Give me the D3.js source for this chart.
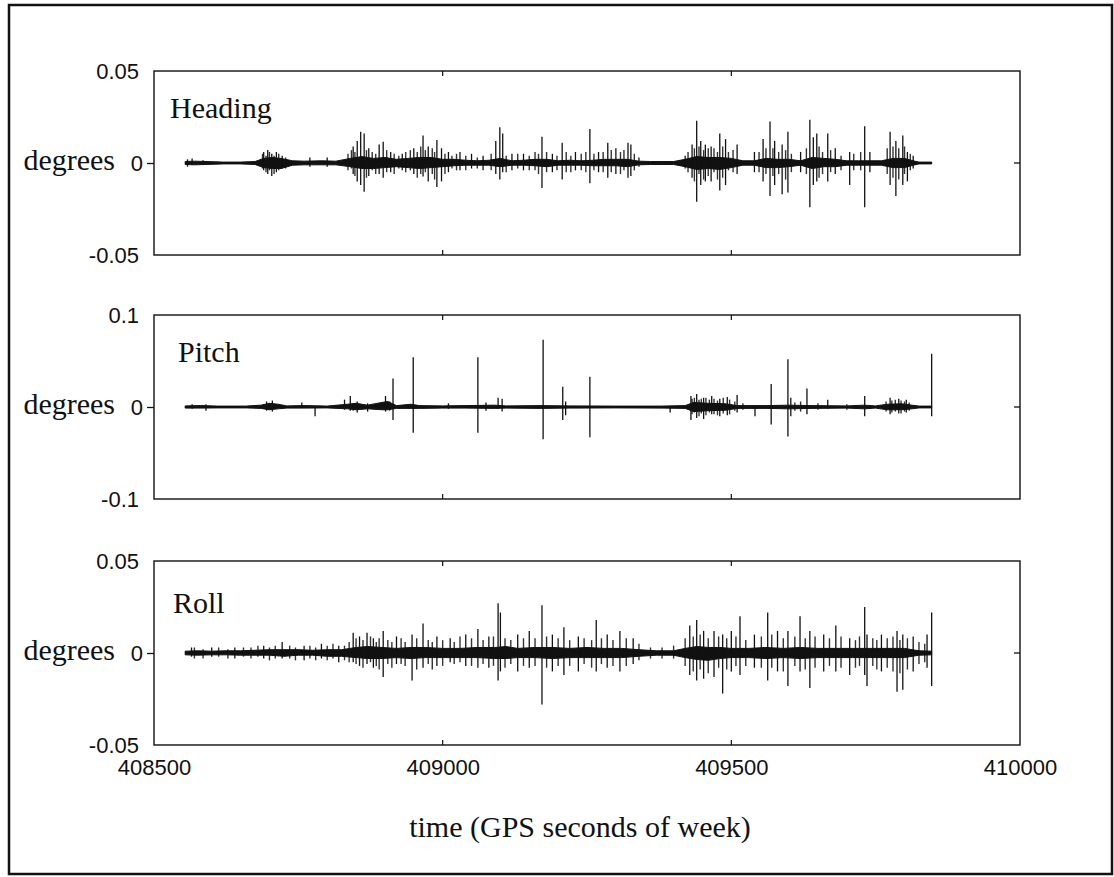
<!DOCTYPE html>
<html><head><meta charset="utf-8">
<script src="https://cdn.jsdelivr.net/npm/d3@7/dist/d3.min.js"></script>
<style>body{margin:0;background:#fff}svg{display:block}</style>
</head><body><svg id="c" width="1114" height="877"></svg>
<script>
// ---------- data ----------
const xDomain = [408500, 410000];
const xTicks = [408500, 409000, 409500, 410000];
const xTickLabels = ["408500", "409000", "409500", "410000"];
const seriesNames = ["Heading", "Pitch", "Roll"];
const yDomains = [[-0.05, 0.05], [-0.1, 0.1], [-0.05, 0.05]];
const yTicks = [[-0.05, 0, 0.05], [-0.1, 0, 0.1], [-0.05, 0, 0.05]];
const yTickLabels = [["-0.05", "0", "0.05"], ["-0.1", "0", "0.1"], ["-0.05", "0", "0.05"]];
const yLabel = "degrees";
const xLabel = "time (GPS seconds of week)";

// dense core band: [time, upper, lower]
const headingBand = [
[408554,0.0008,-0.0008],[408570,0.001,-0.001],[408590,0.0008,-0.0008],[408620,0.0005,-0.0005],[408650,0.0005,-0.0005],
[408675,0.0008,-0.0008],[408690,0.0025,-0.0025],[408705,0.003,-0.003],[408720,0.0025,-0.003],[408740,0.0012,-0.0012],
[408760,0.001,-0.001],[408790,0.0012,-0.001],[408815,0.001,-0.001],[408840,0.0025,-0.002],[408860,0.0035,-0.003],
[408880,0.0025,-0.003],[408900,0.003,-0.0025],[408920,0.002,-0.002],[408940,0.0025,-0.0025],[408960,0.003,-0.003],
[408980,0.003,-0.0025],[409000,0.002,-0.002],[409020,0.002,-0.0015],[409040,0.0015,-0.0012],[409060,0.0012,-0.0012],
[409080,0.0015,-0.0012],[409100,0.0025,-0.002],[409120,0.0012,-0.0012],[409140,0.0015,-0.0012],[409160,0.002,-0.0015],
[409180,0.002,-0.002],[409200,0.0012,-0.0012],[409220,0.0015,-0.0012],[409240,0.0012,-0.0012],[409260,0.0015,-0.0015],
[409280,0.002,-0.0015],[409300,0.002,-0.0015],[409320,0.002,-0.002],[409340,0.001,-0.001],[409360,0.0008,-0.0008],
[409380,0.0008,-0.0008],[409400,0.0008,-0.0008],[409420,0.002,-0.002],[409440,0.0035,-0.0035],[409460,0.003,-0.003],
[409480,0.003,-0.0035],[409500,0.0025,-0.0025],[409520,0.0012,-0.0012],[409540,0.0012,-0.0012],[409560,0.0025,-0.0025],
[409580,0.002,-0.0025],[409600,0.002,-0.002],[409620,0.0012,-0.0012],[409640,0.003,-0.003],[409660,0.0025,-0.002],
[409680,0.002,-0.002],[409700,0.0012,-0.0012],[409720,0.0012,-0.0012],[409740,0.0012,-0.0012],[409760,0.0012,-0.0012],
[409780,0.0025,-0.0025],[409800,0.0025,-0.0025],[409815,0.0012,-0.0012],[409825,0.0005,-0.0005],[409847,0.0005,-0.0005]];

// large spikes: [time, max, min]
const headingSpikes = [
[408558,0.002,-0.002],[408566,0.0025,-0.001],[408585,0.0015,-0.001],[408690,0.006,-0.004],[408697,0.007,-0.006],
[408704,0.005,-0.007],[408712,0.006,-0.005],[408722,0.004,-0.003],[408770,0.003,-0.002],[408800,0.003,-0.002],
[408845,0.009,-0.006],[408852,0.012,-0.01],[408858,0.017,-0.012],[408864,0.016,-0.0156],[408872,0.008,-0.007],
[408890,0.01,-0.006],[408897,0.0116,-0.008],[408910,0.006,-0.005],[408930,0.005,-0.004],[408950,0.008,-0.006],
[408966,0.015,-0.0074],[408975,0.009,-0.01],[408990,0.0125,-0.013],[408998,0.008,-0.01],[409010,0.006,-0.005],
[409030,0.006,-0.004],[409050,0.005,-0.003],[409070,0.004,-0.004],[409092,0.012,-0.006],[409099,0.0194,-0.009],
[409104,0.016,-0.005],[409120,0.005,-0.004],[409140,0.005,-0.004],[409172,0.0143,-0.0136],[409190,0.005,-0.005],
[409207,0.011,-0.009],[409230,0.006,-0.004],[409255,0.0185,-0.011],[409270,0.006,-0.005],[409286,0.011,-0.008],
[409300,0.008,-0.006],[409321,0.011,-0.008],[409326,0.01,-0.007],[409340,0.003,-0.002],[409420,0.004,-0.003],
[409432,0.01,-0.008],[409440,0.023,-0.021],[409447,0.012,-0.012],[409455,0.01,-0.01],[409465,0.009,-0.01],
[409480,0.016,-0.015],[409490,0.013,-0.012],[409510,0.01,-0.006],[409540,0.006,-0.005],[409555,0.013,-0.01],
[409567,0.0225,-0.018],[409575,0.012,-0.012],[409588,0.01,-0.017],[409598,0.017,-0.016],[409620,0.006,-0.005],
[409636,0.0235,-0.024],[409642,0.014,-0.012],[409648,0.016,-0.01],[409667,0.016,-0.01],[409680,0.008,-0.006],
[409705,0.006,-0.012],[409731,0.02,-0.024],[409740,0.006,-0.005],[409775,0.017,-0.012],[409785,0.012,-0.018],
[409797,0.015,-0.012],[409805,0.006,-0.01],[409815,0.004,-0.003]];

// small hair spikes: [time, max, min]
const headingFuzz = [
[408688,0.005,-0.003],[408694,0.004,-0.005],[408700,0.006,-0.004],[408708,0.004,-0.006],[408716,0.005,-0.004],
[408728,0.003,-0.003],[408836,0.005,-0.004],[408842,0.007,-0.003],[408848,0.006,-0.007],[408868,0.007,-0.008],
[408878,0.006,-0.004],[408884,0.005,-0.006],[408903,0.007,-0.005],[408916,0.005,-0.006],[408924,0.004,-0.003],
[408936,0.006,-0.005],[408944,0.007,-0.004],[408956,0.006,-0.008],[408962,0.009,-0.006],[408970,0.007,-0.005],
[408982,0.008,-0.006],[408986,0.006,-0.009],[409004,0.005,-0.006],[409016,0.004,-0.003],[409024,0.005,-0.004],
[409040,0.004,-0.004],[409060,0.003,-0.003],[409084,0.005,-0.004],[409110,0.004,-0.005],[409130,0.005,-0.003],
[409150,0.004,-0.004],[409160,0.006,-0.004],[409166,0.005,-0.006],[409180,0.006,-0.005],[409198,0.004,-0.004],
[409214,0.006,-0.005],[409222,0.004,-0.005],[409240,0.005,-0.004],[409248,0.006,-0.005],[409262,0.005,-0.004],
[409278,0.006,-0.005],[409292,0.007,-0.005],[409308,0.006,-0.006],[409314,0.007,-0.004],[409332,0.005,-0.004],
[409425,0.006,-0.005],[409436,0.008,-0.01],[409444,0.009,-0.006],[409452,0.007,-0.009],[409460,0.008,-0.007],
[409470,0.008,-0.005],[409476,0.006,-0.009],[409485,0.009,-0.008],[409495,0.006,-0.004],[409503,0.007,-0.005],
[409548,0.006,-0.005],[409560,0.008,-0.006],[409572,0.008,-0.007],[409582,0.006,-0.006],[409594,0.007,-0.009],
[409604,0.005,-0.005],[409630,0.008,-0.006],[409652,0.009,-0.008],[409658,0.006,-0.006],[409672,0.007,-0.005],
[409690,0.004,-0.004],[409712,0.005,-0.004],[409724,0.006,-0.004],[409770,0.008,-0.006],[409780,0.009,-0.008],
[409790,0.008,-0.009],[409800,0.009,-0.006],[409810,0.005,-0.004]];

const pitchBand = [
[408554,0.0012,-0.0012],[408580,0.0015,-0.0012],[408610,0.001,-0.001],[408660,0.001,-0.001],[408685,0.002,-0.0015],
[408700,0.004,-0.003],[408715,0.003,-0.002],[408730,0.0012,-0.0012],[408760,0.0015,-0.0012],[408800,0.001,-0.001],
[408835,0.003,-0.002],[408850,0.004,-0.003],[408870,0.002,-0.002],[408895,0.005,-0.003],[408905,0.006,-0.003],
[408920,0.0015,-0.0015],[408945,0.003,-0.0015],[408960,0.0015,-0.0015],[409000,0.0012,-0.0012],[409040,0.0015,-0.0012],
[409090,0.002,-0.0015],[409110,0.0012,-0.0012],[409170,0.0015,-0.0015],[409220,0.0012,-0.0012],[409300,0.001,-0.001],
[409380,0.001,-0.0012],[409420,0.0015,-0.0015],[409435,0.005,-0.005],[409460,0.004,-0.004],[409490,0.0035,-0.0035],
[409510,0.0015,-0.0015],[409560,0.0015,-0.0015],[409600,0.002,-0.002],[409640,0.0015,-0.0015],[409700,0.0012,-0.0012],
[409730,0.002,-0.002],[409750,0.0012,-0.0012],[409770,0.003,-0.003],[409795,0.0035,-0.003],[409813,0.002,-0.002],
[409825,0.001,-0.001],[409847,0.001,-0.001]];

const pitchSpikes = [
[408566,0.003,-0.002],[408590,0.003,-0.004],[408695,0.006,-0.004],[408705,0.007,-0.005],[408756,0.005,-0.001],
[408779,0.001,-0.01],[408830,0.008,-0.003],[408840,0.012,-0.004],[408852,0.006,-0.006],[408870,0.004,-0.005],
[408901,0.012,-0.005],[408914,0.031,-0.014],[408949,0.054,-0.028],[409010,0.004,-0.002],[409061,0.054,-0.028],
[409075,0.005,-0.004],[409096,0.01,-0.002],[409103,0.009,-0.005],[409174,0.073,-0.035],[409208,0.022,-0.014],
[409213,0.006,-0.009],[409255,0.033,-0.033],[409394,0.001,-0.006],[409430,0.012,-0.014],[409440,0.014,-0.012],
[409452,0.01,-0.013],[409466,0.012,-0.008],[409480,0.009,-0.01],[409493,0.011,-0.009],[409510,0.013,-0.006],
[409541,0.002,-0.01],[409569,0.025,-0.019],[409598,0.052,-0.032],[409603,0.01,-0.01],[409631,0.02,-0.008],
[409667,0.008,-0.002],[409731,0.012,-0.01],[409775,0.01,-0.008],[409790,0.009,-0.007],[409803,0.008,-0.006],
[409847,0.058,-0.01]];

const pitchFuzz = [
[408700,0.004,-0.003],[408845,0.004,-0.004],[408895,0.005,-0.003],[408908,0.006,-0.004],[409432,0.009,-0.008],
[409436,0.01,-0.006],[409444,0.008,-0.01],[409448,0.009,-0.007],[409456,0.01,-0.009],[409462,0.008,-0.006],
[409470,0.009,-0.008],[409476,0.007,-0.009],[409486,0.01,-0.007],[409497,0.008,-0.008],[409506,0.006,-0.004],
[409520,0.004,-0.003],[409610,0.005,-0.004],[409620,0.006,-0.005],[409650,0.004,-0.003],[409700,0.003,-0.003],
[409768,0.006,-0.005],[409778,0.007,-0.006],[409784,0.008,-0.005],[409794,0.007,-0.007],[409800,0.006,-0.005],
[409808,0.005,-0.004]];

const rollBand = [
[408554,0.001,-0.001],[408575,0.0012,-0.0012],[408600,0.001,-0.001],[408625,0.0012,-0.001],[408650,0.0012,-0.0012],
[408675,0.0015,-0.0012],[408700,0.0018,-0.0012],[408725,0.0018,-0.0018],[408750,0.0018,-0.0012],[408775,0.0015,-0.0012],
[408800,0.0018,-0.0018],[408825,0.0018,-0.0018],[408850,0.003,-0.0025],[408870,0.0035,-0.003],[408895,0.003,-0.003],
[408920,0.0025,-0.0025],[408945,0.003,-0.003],[408970,0.003,-0.0025],[409000,0.0025,-0.0025],[409030,0.0025,-0.0025],
[409060,0.003,-0.0025],[409090,0.003,-0.003],[409110,0.0035,-0.003],[409130,0.0025,-0.0025],[409160,0.003,-0.0025],
[409190,0.003,-0.003],[409220,0.0025,-0.0025],[409250,0.003,-0.0025],[409280,0.0025,-0.0025],[409310,0.0025,-0.0025],
[409340,0.0018,-0.0018],[409370,0.0012,-0.0012],[409400,0.0012,-0.0012],[409420,0.0025,-0.0025],[409440,0.0035,-0.0035],
[409460,0.003,-0.004],[409480,0.003,-0.003],[409500,0.0025,-0.0025],[409530,0.0025,-0.0025],[409560,0.003,-0.003],
[409590,0.0025,-0.0025],[409620,0.003,-0.003],[409650,0.0025,-0.0025],[409680,0.0025,-0.0025],[409710,0.0025,-0.0025],
[409740,0.0025,-0.0025],[409770,0.0025,-0.0025],[409800,0.0025,-0.0025],[409825,0.0012,-0.0012],[409847,0.001,-0.001]];

const rollSpikes = [
[408565,0.003,-0.002],[408600,0.003,-0.002],[408640,0.003,-0.003],[408690,0.004,-0.003],[408722,0.006,-0.003],
[408760,0.004,-0.004],[408790,0.005,-0.003],[408820,0.004,-0.005],[408845,0.011,-0.005],[408856,0.009,-0.007],
[408869,0.011,-0.006],[408880,0.008,-0.008],[408897,0.012,-0.013],[408920,0.009,-0.006],[408947,0.01,-0.015],
[408966,0.016,-0.008],[408990,0.009,-0.007],[409013,0.008,-0.005],[409040,0.01,-0.007],[409061,0.013,-0.008],
[409080,0.009,-0.008],[409096,0.027,-0.015],[409100,0.022,-0.01],[409130,0.01,-0.01],[409150,0.012,-0.008],
[409172,0.026,-0.028],[409190,0.01,-0.01],[409210,0.014,-0.012],[409235,0.009,-0.01],[409266,0.018,-0.01],
[409285,0.01,-0.008],[409307,0.012,-0.01],[409330,0.008,-0.006],[409428,0.015,-0.012],[409440,0.018,-0.015],
[409452,0.012,-0.014],[409470,0.012,-0.013],[409485,0.01,-0.022],[409500,0.012,-0.01],[409515,0.02,-0.012],
[409540,0.01,-0.008],[409563,0.022,-0.015],[409580,0.012,-0.01],[409598,0.012,-0.018],[409619,0.02,-0.01],
[409636,0.012,-0.019],[409660,0.01,-0.01],[409681,0.015,-0.01],[409705,0.008,-0.012],[409731,0.025,-0.012],
[409735,0.01,-0.018],[409760,0.01,-0.01],[409787,0.012,-0.021],[409797,0.01,-0.02],[409815,0.009,-0.01],
[409839,0.01,-0.008],[409847,0.022,-0.018]];

const rollFuzz = [
[408570,0.003,-0.003],[408585,0.002,-0.003],[408612,0.003,-0.002],[408628,0.002,-0.003],[408655,0.003,-0.002],
[408668,0.003,-0.003],[408680,0.004,-0.002],[408700,0.003,-0.004],[408710,0.004,-0.003],[408735,0.004,-0.003],
[408745,0.003,-0.004],[408770,0.004,-0.003],[408780,0.003,-0.004],[408800,0.004,-0.004],[408810,0.005,-0.003],
[408830,0.004,-0.004],[408838,0.006,-0.005],[408850,0.008,-0.006],[408862,0.007,-0.008],[408875,0.009,-0.005],
[408885,0.006,-0.007],[408890,0.008,-0.009],[408905,0.007,-0.006],[408912,0.006,-0.008],[408928,0.008,-0.006],
[408935,0.006,-0.007],[408955,0.008,-0.009],[408975,0.007,-0.006],[408982,0.006,-0.009],[409000,0.007,-0.007],
[409020,0.006,-0.006],[409030,0.009,-0.005],[409050,0.008,-0.007],[409070,0.007,-0.006],[409088,0.009,-0.007],
[409108,0.008,-0.008],[409118,0.007,-0.006],[409140,0.008,-0.007],[409160,0.008,-0.007],[409180,0.009,-0.008],
[409200,0.008,-0.007],[409220,0.007,-0.007],[409245,0.008,-0.006],[409258,0.007,-0.008],[409275,0.008,-0.006],
[409295,0.007,-0.007],[409318,0.008,-0.007],[409340,0.005,-0.004],[409360,0.003,-0.003],[409380,0.003,-0.003],
[409400,0.004,-0.003],[409420,0.008,-0.007],[409434,0.009,-0.01],[409446,0.01,-0.009],[409460,0.008,-0.011],
[409478,0.009,-0.008],[409492,0.008,-0.009],[409508,0.009,-0.007],[409525,0.007,-0.007],[409552,0.009,-0.008],
[409570,0.01,-0.008],[409590,0.008,-0.01],[409610,0.009,-0.007],[409628,0.008,-0.009],[409645,0.009,-0.008],
[409670,0.008,-0.007],[409690,0.009,-0.008],[409715,0.007,-0.008],[409722,0.009,-0.007],[409745,0.008,-0.007],
[409752,0.007,-0.009],[409770,0.008,-0.008],[409780,0.009,-0.01],[409792,0.007,-0.011],[409805,0.008,-0.009],
[409825,0.006,-0.006],[409835,0.005,-0.005]];

const bands = [headingBand, pitchBand, rollBand];
const spikes = [headingSpikes, pitchSpikes, rollSpikes];
const fuzz = [headingFuzz, pitchFuzz, rollFuzz];

// ---------- layout ----------
const W = 1114, H = 877;
const plotL = 154, plotR = 1020, panelH = 184;
const panelTops = [71, 315, 561];
const nameOffsets = [[16, 47], [24, 47], [19, 52]];
const serif = "'Liberation Serif','Times New Roman',serif";
const sans = "'Liberation Sans',Arial,sans-serif";
const ink = "#111";

const svg = d3.select("#c");
svg.append("rect").attr("width", W).attr("height", H).attr("fill", "#fff");
svg.append("rect").attr("x", 9).attr("y", 5).attr("width", 1103).attr("height", 869)
  .attr("fill", "none").attr("stroke", ink).attr("stroke-width", 2.5);

const x = d3.scaleLinear().domain(xDomain).range([plotL, plotR]);

panelTops.forEach((top, i) => {
  const y = d3.scaleLinear().domain(yDomains[i]).range([top + panelH, top]);
  const g = svg.append("g");

  // hair spikes
  g.selectAll("line.fz").data(fuzz[i]).join("line").attr("class", "fz")
    .attr("x1", d => x(d[0])).attr("x2", d => x(d[0]))
    .attr("y1", d => y(d[1])).attr("y2", d => y(d[2]))
    .attr("stroke", "#333").attr("stroke-width", 1.4);
  // band
  const area = d3.area().x(d => x(d[0])).y0(d => y(d[2])).y1(d => y(d[1])).curve(d3.curveLinear);
  g.append("path").datum(bands[i]).attr("d", area).attr("fill", ink).attr("stroke", ink).attr("stroke-width", 1);
  // center trace
  const line = d3.line().x(d => x(d[0])).y(d => y((d[1] + d[2]) / 2));
  g.append("path").datum(bands[i]).attr("d", line).attr("fill", "none").attr("stroke", ink).attr("stroke-width", 2);
  // large spikes
  g.selectAll("line.sp").data(spikes[i]).join("line").attr("class", "sp")
    .attr("x1", d => x(d[0])).attr("x2", d => x(d[0]))
    .attr("y1", d => y(d[1])).attr("y2", d => y(d[2]))
    .attr("stroke", ink).attr("stroke-width", 1.3);

  // frame
  g.append("rect").attr("x", plotL).attr("y", top).attr("width", plotR - plotL).attr("height", panelH)
    .attr("fill", "none").attr("stroke", ink).attr("stroke-width", 1.4);

  // left axis
  const ax = g.append("g").attr("transform", `translate(${plotL},0)`)
    .call(d3.axisLeft(y).tickValues(yTicks[i]).tickSize(7).tickPadding(8)
      .tickFormat((d, k) => yTickLabels[i][k]));
  ax.select(".domain").remove();
  ax.selectAll(".tick line").attr("stroke", ink).attr("stroke-width", 1.3).attr("opacity", d => d === 0 ? 1 : 0);
  ax.selectAll(".tick text").attr("font-family", sans).attr("font-size", 22).attr("fill", ink)
    .attr("dx", d => d === 0 ? 4 : 0);
  // right inward tick at zero
  g.append("line").attr("x1", plotR - 6).attr("x2", plotR).attr("y1", y(0)).attr("y2", y(0))
    .attr("stroke", ink).attr("stroke-width", 1.3);
  // x inward ticks
  const inner = xTicks.slice(1, -1);
  g.selectAll("line.xt").data(inner).join("line").attr("class", "xt")
    .attr("x1", d => x(d)).attr("x2", d => x(d)).attr("y1", top + panelH).attr("y2", top + panelH - 5)
    .attr("stroke", ink).attr("stroke-width", 1.2);
  g.selectAll("line.xt2").data(inner).join("line").attr("class", "xt2")
    .attr("x1", d => x(d)).attr("x2", d => x(d)).attr("y1", top).attr("y2", top + 5)
    .attr("stroke", ink).attr("stroke-width", 1.2);

  // labels
  g.append("text").attr("x", 115).attr("y", y(0) + 7).attr("text-anchor", "end")
    .attr("font-family", serif).attr("font-size", 30).attr("fill", ink).text(yLabel);
  g.append("text").attr("x", plotL + nameOffsets[i][0]).attr("y", top + nameOffsets[i][1])
    .attr("font-family", serif).attr("font-size", 30).attr("fill", ink).text(seriesNames[i]);

  if (i === panelTops.length - 1) {
    const xa = g.append("g").attr("transform", `translate(0,${top + panelH})`)
      .call(d3.axisBottom(x).tickValues(xTicks).tickSize(0).tickPadding(14)
        .tickFormat((d, k) => xTickLabels[k]));
    xa.select(".domain").remove();
    xa.selectAll(".tick text").attr("font-family", sans).attr("font-size", 22).attr("fill", ink);
  }
});

svg.append("text").attr("x", 580).attr("y", 837).attr("text-anchor", "middle")
  .attr("font-family", serif).attr("font-size", 30).attr("fill", ink).text(xLabel);
</script></body></html>
